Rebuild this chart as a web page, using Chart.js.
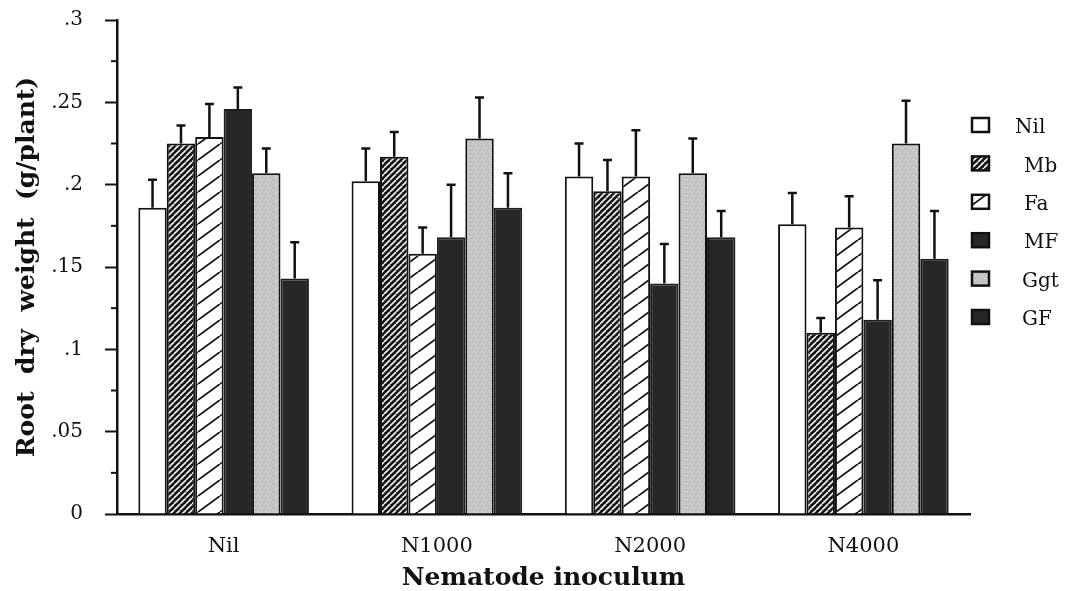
<!DOCTYPE html>
<html>
<head>
<meta charset="utf-8">
<script src="https://cdn.jsdelivr.net/npm/chart.js@4.4.1/dist/chart.umd.min.js"></script>
<style>
  html, body { margin: 0; padding: 0; background: #fff; }
  #wrap { width: 1070px; height: 591px; }
</style>
</head>
<body>
<div id="wrap"><canvas id="chart" width="1070" height="591"></canvas></div>
<script>
// ---- DATA ----
const groups = ["Nil", "N1000", "N2000", "N4000"];
const treatments = ["Nil", "Mb", "Fa", "MF", "Ggt", "GF"];

// mean root dry weight per treatment, one value per inoculum group
const nilMean = [0.186, 0.202, 0.205, 0.176];
const mbMean  = [0.225, 0.217, 0.196, 0.110];
const faMean  = [0.229, 0.158, 0.205, 0.174];
const mfMean  = [0.246, 0.168, 0.140, 0.118];
const ggtMean = [0.207, 0.228, 0.207, 0.225];
const gfMean  = [0.143, 0.186, 0.168, 0.155];

// standard error (length of the upward error bar)
const nilErr = [0.017, 0.020, 0.020, 0.019];
const mbErr  = [0.011, 0.015, 0.019, 0.009];
const faErr  = [0.020, 0.016, 0.028, 0.019];
const mfErr  = [0.013, 0.032, 0.024, 0.024];
const ggtErr = [0.015, 0.025, 0.021, 0.026];
const gfErr  = [0.022, 0.021, 0.016, 0.029];

const yTicks = [0, 0.05, 0.1, 0.15, 0.2, 0.25, 0.3];
const minorTicks = [0.025, 0.075, 0.125, 0.175, 0.225, 0.275];

// ---- FILL PATTERNS ----
function tile(w, h, paint) {
    const c = document.createElement("canvas");
    c.width = w; c.height = h;
    const g = c.getContext("2d");
    paint(g, w, h);
    return g.createPattern(c, "repeat");
}

const denseHatch = tile(6, 6, (g, w, h) => {
    g.fillStyle = "#151515";
    g.fillRect(0, 0, w, h);
    g.strokeStyle = "#f4f4f4";
    g.lineWidth = 1.6;
    [-w, 0, w].forEach(dx => {
        g.beginPath(); g.moveTo(dx, h); g.lineTo(dx + w, 0); g.stroke();
    });
});

const sparseHatch = tile(22, 16, (g, w, h) => {
    g.fillStyle = "#fff";
    g.fillRect(0, 0, w, h);
    g.strokeStyle = "#111";
    g.lineWidth = 1.8;
    [-w, 0, w].forEach(dx => {
        g.beginPath(); g.moveTo(dx, h); g.lineTo(dx + w, 0); g.stroke();
    });
});

const stipple = tile(8, 8, (g, w, h) => {
    g.fillStyle = "#c6c6c6";
    g.fillRect(0, 0, w, h);
    g.fillStyle = "#acacac";
    [[1,1],[5,2],[3,5],[7,6],[0,4]].forEach(p => g.fillRect(p[0], p[1], 1, 1));
    g.fillStyle = "#dadada";
    [[3,0],[6,4],[1,6],[4,3]].forEach(p => g.fillRect(p[0], p[1], 1, 1));
});

const fills = ["#ffffff", denseHatch, sparseHatch, "#272727", stipple, "#272727"];
const means = [nilMean, mbMean, faMean, mfMean, ggtMean, gfMean];
const errs  = [nilErr, mbErr, faErr, mfErr, ggtErr, gfErr];

const serif = "'DejaVu Serif', 'Liberation Serif', serif";

// ---- PLUGINS ----
const errorBars = {
    id: "errorBars",
    afterDatasetsDraw(chart) {
        const ctx = chart.ctx;
        const y = chart.scales.y;
        ctx.save();
        ctx.strokeStyle = "#111";
        ctx.lineWidth = 2.5;
        chart.data.datasets.forEach((ds, di) => {
            chart.getDatasetMeta(di).data.forEach((bar, i) => {
                const top = y.getPixelForValue(ds.data[i] + ds.err[i]);
                ctx.beginPath();
                ctx.moveTo(bar.x, bar.y);
                ctx.lineTo(bar.x, top);
                ctx.moveTo(bar.x - 4.5, top);
                ctx.lineTo(bar.x + 4.5, top);
                ctx.stroke();
            });
        });
        ctx.restore();
    }
};

const minorTickMarks = {
    id: "minorTickMarks",
    afterDraw(chart) {
        const ctx = chart.ctx;
        const y = chart.scales.y;
        const x0 = chart.chartArea.left;
        ctx.save();
        ctx.strokeStyle = "#111";
        ctx.lineWidth = 2;
        minorTicks.forEach(v => {
            const py = y.getPixelForValue(v);
            ctx.beginPath(); ctx.moveTo(x0 - 6, py); ctx.lineTo(x0, py); ctx.stroke();
        });
        ctx.restore();
    }
};

const sideLegend = {
    id: "sideLegend",
    afterDraw(chart, args, opts) {
        const ctx = chart.ctx;
        ctx.save();
        ctx.font = "20px " + serif;
        ctx.textBaseline = "middle";
        chart.data.datasets.forEach((ds, i) => {
            const cy = opts.top + i * opts.step;
            ctx.fillStyle = ds.backgroundColor;
            ctx.fillRect(opts.x, cy - 7, 17, 14);
            ctx.strokeStyle = "#111";
            ctx.lineWidth = 2.5;
            ctx.strokeRect(opts.x, cy - 7, 17, 14);
            ctx.fillStyle = "#111";
            ctx.fillText(ds.label, opts.textX + opts.shift[i], cy + 3);
        });
        ctx.restore();
    }
};

// ---- CHART ----
const ctx = document.getElementById("chart").getContext("2d");

new Chart(ctx, {
    type: "bar",
    data: {
        labels: groups,
        datasets: treatments.map((t, i) => ({
            label: t,
            data: means[i],
            err: errs[i],
            backgroundColor: fills[i],
            borderColor: i === 3 || i === 5 ? "#1e1e1e" : "#111",
            borderWidth: 2,
            categoryPercentage: 0.8,
            barPercentage: 1.0
        }))
    },
    plugins: [errorBars, minorTickMarks, sideLegend],
    options: {
        responsive: false,
        animation: false,
        layout: { padding: { top: 20, right: 100, left: 0, bottom: 0 } },
        plugins: {
            legend: { display: false },
            tooltip: { enabled: false },
            sideLegend: { x: 972, top: 125, step: 38.4, textX: 1015, shift: [0, 9, 9, 9, 7, 7] }
        },
        scales: {
            x: {
                afterFit: s => { s.height = 77; s.paddingLeft = 0; s.paddingRight = 0; },
                grid: { drawOnChartArea: false, drawTicks: false },
                border: { color: "#111", width: 2.5 },
                ticks: { color: "#111", padding: 20, font: { family: serif, size: 21 } },
                title: {
                    display: true,
                    text: "Nematode inoculum",
                    color: "#111",
                    padding: { top: 0, bottom: -2 },
                    font: { family: serif, size: 25, weight: "bold" }
                }
            },
            y: {
                min: 0,
                max: 0.3,
                afterFit: s => { s.width = 117; s.paddingTop = 0; s.paddingBottom = 0; },
                afterBuildTicks: s => { s.ticks = yTicks.map(v => ({ value: v })); },
                grid: { drawOnChartArea: false, tickLength: 12, tickColor: "#111", tickWidth: 2 },
                border: { color: "#111", width: 2.5 },
                ticks: {
                    color: "#111",
                    padding: 22,
                    font: { family: serif, size: 20 },
                    callback: v => v === 0 ? "0" : String(+v.toFixed(3)).replace(/^0/, "")
                },
                title: {
                    display: true,
                    text: "Root  dry  weight  (g/plant)",
                    color: "#111",
                    padding: { top: 12, bottom: 0 },
                    font: { family: serif, size: 25, weight: "bold" }
                }
            }
        }
    }
});
</script>
</body>
</html>
